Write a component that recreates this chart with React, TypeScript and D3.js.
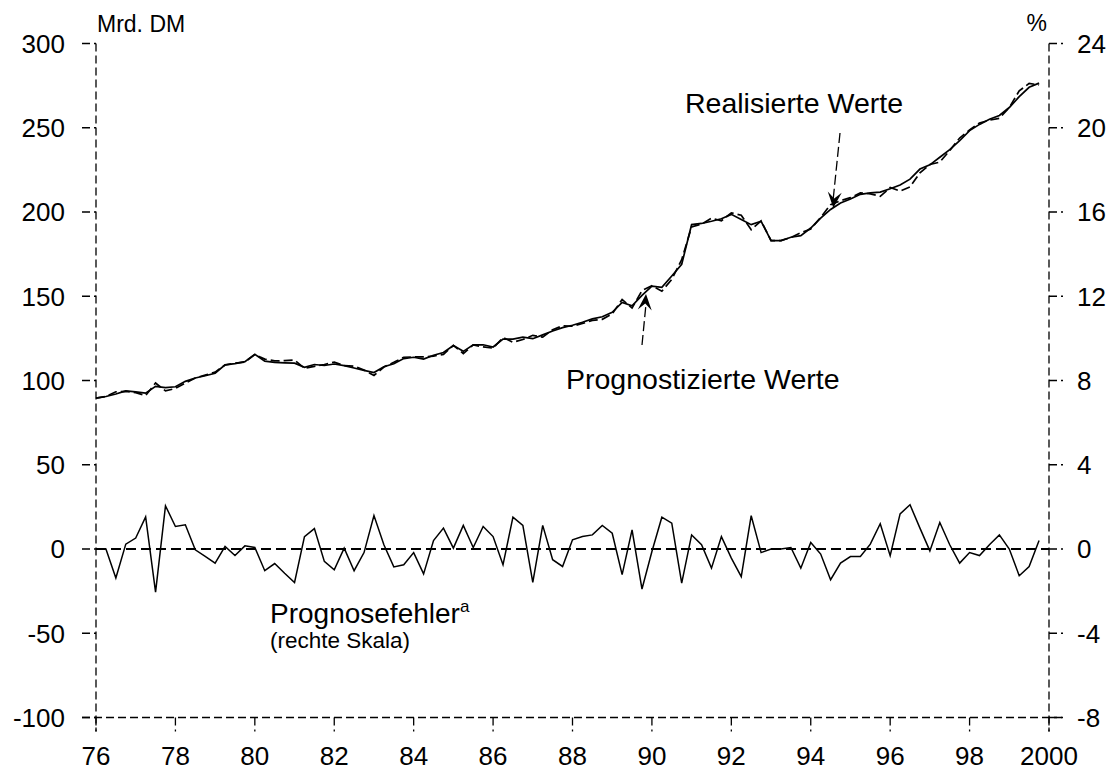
import React from "react";
import * as d3 from "d3";

// Quarterly data 1976Q1 – 1999Q4
const startYear = 1976;
const realized: number[] = [
  89.5, 90.5, 92, 93.8, 93.3, 92.5, 96.5, 95.8, 96.3, 99.5, 101.5, 102.8,
  104.3, 109.3, 110, 111.2, 115.5, 111.5, 110.8, 110.5, 110.3, 107.8, 109.5, 108.9,
  109.8, 108.8, 107.4, 106, 104.7, 108.2, 109.9, 113, 113.8, 112.7, 115, 116.6,
  120.8, 117.3, 121.2, 121.2, 119.9, 124.6, 124.6, 125.7, 124.8, 127.1, 129.4, 131.4,
  132.8, 134.6, 136.6, 137.8, 140.5, 146.3, 144.3, 150.5, 156, 155.3, 162, 169,
  192.5, 193.2, 194.5, 196, 198.6, 195.5, 192.5, 194.5, 183, 183, 185, 186,
  190.5, 196.3, 201.5, 205.3, 207.7, 210.5, 211.3, 211.8, 213.8, 216, 219.5, 225.5,
  228, 232.5, 237, 242.3, 248.3, 252, 255, 257.3, 262, 268.5, 274, 276.5,
];
const forecast: number[] = [
  89.5, 90.5, 93.3, 93.6, 92.8, 91.1, 98.5, 93.8, 95.3, 98.4, 101.5, 103.2,
  105.0, 109.2, 110.3, 111.0, 115.4, 112.7, 111.6, 111.8, 112.1, 107.2, 108.4, 109.5,
  110.9, 108.8, 108.5, 106.2, 103.0, 108.0, 110.8, 113.8, 114.0, 114.0, 114.5, 115.5,
  120.8, 116.0, 121.1, 119.9, 119.2, 125.5, 122.7, 124.3, 126.8, 125.7, 130.1, 132.5,
  132.2, 133.8, 135.7, 136.3, 139.5, 148.1, 143.0, 153.4, 156.2, 153.0, 160.0, 171.7,
  191.2, 192.8, 196.3, 194.8, 199.5, 198.1, 189.5, 194.8, 183, 183, 184.9, 187.7,
  189.9, 196.8, 204.4, 206.7, 208.5, 211.3, 210.8, 209.3, 214.5, 212.4, 214.9, 223.3,
  228.2, 229.6, 236.5, 243.9, 248.7, 252.8, 254.5, 255.6, 262, 271.9, 276.3, 275.4,
];
// Prognosefehler in % (rechte Skala)
const forecastError: number[] = [
  0, 0, -1.38, 0.23, 0.52, 1.52, -2.05, 2.05, 1.07, 1.15, -0.04, -0.35,
  -0.67, 0.12, -0.31, 0.15, 0.07, -1.03, -0.69, -1.15, -1.59, 0.59, 0.97, -0.59,
  -0.99, 0.04, -1.03, -0.17, 1.59, 0.2, -0.85, -0.75, -0.17, -1.18, 0.4, 0.99,
  0.04, 1.12, 0.07, 1.07, 0.59, -0.75, 1.51, 1.12, -1.59, 1.12, -0.51, -0.83,
  0.44, 0.59, 0.67, 1.12, 0.75, -1.22, 0.91, -1.9, -0.12, 1.51, 1.23, -1.62,
  0.67, 0.2, -0.91, 0.59, -0.43, -1.31, 1.58, -0.17, 0, 0, 0.07, -0.91,
  0.31, -0.24, -1.46, -0.67, -0.36, -0.36, 0.23, 1.2, -0.32, 1.67, 2.1, 0.99,
  -0.09, 1.26, 0.2, -0.67, -0.17, -0.31, 0.2, 0.67, 0, -1.27, -0.83, 0.4,
];

const leftTicks = [-100, -50, 0, 50, 100, 150, 200, 250, 300];
const rightTicks = [-8, -4, 0, 4, 8, 12, 16, 20, 24];
const xTicks = [1976, 1978, 1980, 1982, 1984, 1986, 1988, 1990, 1992, 1994, 1996, 1998, 2000];
const xTickLabels = ["76", "78", "80", "82", "84", "86", "88", "90", "92", "94", "96", "98", "2000"];

const W = 1114;
const H = 771;
const FONT = "'Liberation Sans', Arial, sans-serif";

export default function App() {
  const x = d3.scaleLinear().domain([1976, 2000]).range([96, 1049]);
  const yL = d3.scaleLinear().domain([-100, 300]).range([717.5, 43.5]);
  const yR = d3.scaleLinear().domain([-8, 24]).range([717.5, 43.5]);

  const t = (i: number) => startYear + i / 4;
  const lineL = d3
    .line<number>()
    .x((_, i) => x(t(i)))
    .y((d) => yL(d));
  const lineR = d3
    .line<number>()
    .x((_, i) => x(t(i)))
    .y((d) => yR(d));

  const x0 = x(1976);
  const x1 = x(2000);
  const yTop = yL(300);
  const yBot = yL(-100);
  const tickLen = 14;
  const dash = "8,4";

  // annotation arrows
  const realArrowFrom = [840, 133];
  const realArrowTo = [833.3, 208];
  const progArrowFrom = [642, 345];
  const progArrowTo = [646, 294];

  const arrowHead = (from: number[], to: number[]) => {
    const dx = to[0] - from[0];
    const dy = to[1] - from[1];
    const len = Math.hypot(dx, dy);
    const ux = dx / len;
    const uy = dy / len;
    const L = 16;
    const Wd = 7;
    const bx = to[0] - ux * L;
    const by = to[1] - uy * L;
    const ix = to[0] - ux * L * 0.6;
    const iy = to[1] - uy * L * 0.6;
    return `M${to[0]},${to[1]} L${bx - uy * Wd},${by + ux * Wd} L${ix},${iy} L${bx + uy * Wd},${by - ux * Wd} Z`;
  };

  return (
    <svg
      width={W}
      height={H}
      style={{ position: "absolute", left: 0, top: 0, background: "#fff" }}
      fontFamily={FONT}
    >
      <rect x={0} y={0} width={W} height={H} fill="#fff" />

      {/* axes */}
      <line x1={x0} y1={yTop} x2={x0} y2={yBot + tickLen} stroke="#000" strokeWidth={1.3} strokeDasharray={dash} />
      <line x1={x1} y1={yTop} x2={x1} y2={yBot + tickLen} stroke="#000" strokeWidth={1.3} strokeDasharray={dash} />
      <line x1={x0 - tickLen} y1={yBot} x2={x1 + tickLen} y2={yBot} stroke="#000" strokeWidth={1.3} strokeDasharray={dash} />

      {/* left ticks */}
      {leftTicks.map((v) => (
        <g key={"l" + v}>
          <line x1={x0 - tickLen} y1={yL(v)} x2={x0} y2={yL(v)} stroke="#000" strokeWidth={1.3} strokeDasharray={dash} />
          <text x={x0 - 31} y={yL(v)} dy="0.36em" textAnchor="end" fontSize={26} fill="#000">
            {v}
          </text>
        </g>
      ))}
      {/* right ticks */}
      {rightTicks.map((v) => (
        <g key={"r" + v}>
          <line x1={x1} y1={yR(v)} x2={x1 + tickLen} y2={yR(v)} stroke="#000" strokeWidth={1.3} strokeDasharray={dash} />
          <text x={x1 + 28} y={yR(v)} dy="0.36em" textAnchor="start" fontSize={26} fill="#000">
            {v}
          </text>
        </g>
      ))}
      {/* x ticks */}
      {xTicks.map((v, i) => (
        <g key={"x" + v}>
          <line x1={x(v)} y1={yBot} x2={x(v)} y2={yBot + tickLen} stroke="#000" strokeWidth={1.3} strokeDasharray={dash} />
          <text x={x(v)} y={765} textAnchor="middle" fontSize={26} fill="#000">
            {xTickLabels[i]}
          </text>
        </g>
      ))}

      {/* unit labels */}
      <text x={97} y={32} fontSize={23} fill="#000">Mrd. DM</text>
      <text x={1047} y={31} fontSize={23} textAnchor="end" fill="#000">%</text>

      {/* zero line */}
      <line x1={x0} y1={yL(0)} x2={x1} y2={yL(0)} stroke="#000" strokeWidth={2} strokeDasharray="10,5" />

      {/* forecast error */}
      <path d={lineR(forecastError) ?? ""} fill="none" stroke="#000" strokeWidth={1.5} strokeLinejoin="miter" />

      {/* realized & forecast */}
      <path d={lineL(forecast) ?? ""} fill="none" stroke="#000" strokeWidth={1.7} strokeDasharray="9,4" />
      <path d={lineL(realized) ?? ""} fill="none" stroke="#000" strokeWidth={1.7} />

      {/* annotations */}
      <text x={685} y={113} fontSize={28.5} fill="#000">Realisierte Werte</text>
      <line x1={realArrowFrom[0]} y1={realArrowFrom[1]} x2={realArrowTo[0]} y2={realArrowTo[1] - 10} stroke="#000" strokeWidth={1.3} strokeDasharray="10,4" />
      <path d={arrowHead(realArrowFrom, realArrowTo)} fill="#000" />

      <text x={566} y={389} fontSize={28.5} fill="#000">Prognostizierte Werte</text>
      <line x1={progArrowFrom[0]} y1={progArrowFrom[1]} x2={progArrowTo[0]} y2={progArrowTo[1] + 10} stroke="#000" strokeWidth={1.3} strokeDasharray="10,4" />
      <path d={arrowHead(progArrowFrom, progArrowTo)} fill="#000" />

      <text x={270} y={623} fontSize={28} fill="#000">
        Prognosefehler
        <tspan fontSize={17} dy={-11}>a</tspan>
      </text>
      <text x={270} y={648} fontSize={22.5} fill="#000">(rechte Skala)</text>
    </svg>
  );
}
